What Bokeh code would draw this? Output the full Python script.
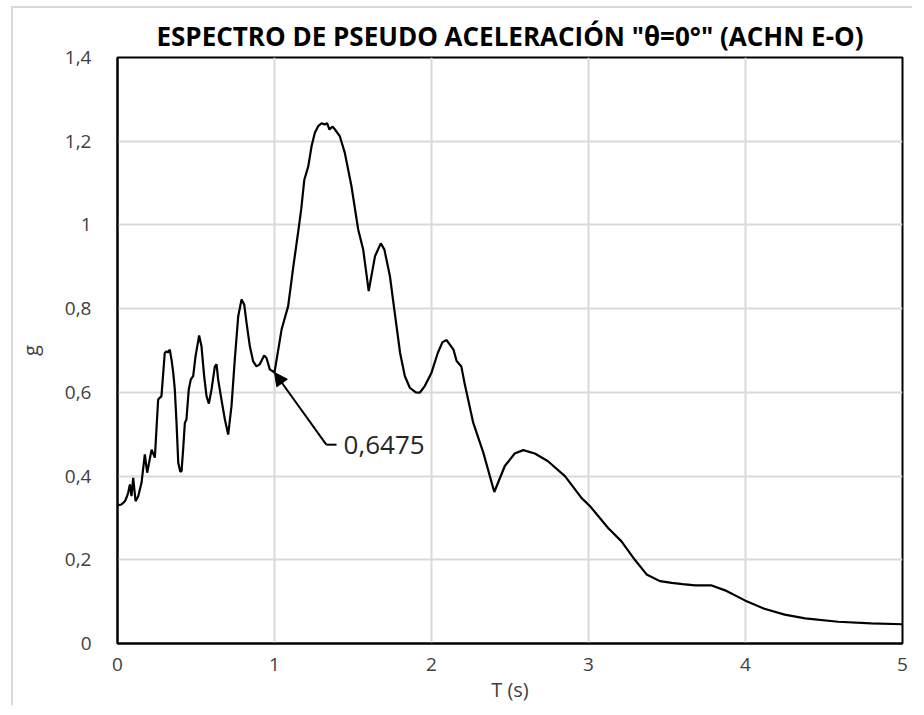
from bokeh.plotting import figure
from bokeh.layouts import column
from bokeh.embed import file_html
from bokeh.resources import INLINE
from bokeh.models import (Range1d, FixedTicker, CustomJSTickFormatter, Arrow, NormalHead,
                          Label, ColumnDataSource, Title)

# Period T (s)
periods = [0.0, 0.025, 0.047, 0.057, 0.068, 0.079, 0.089, 0.100, 0.115, 0.132, 0.153, 0.174, 0.189,
           0.217, 0.238, 0.248, 0.259, 0.280, 0.301, 0.312, 0.320, 0.333, 0.344, 0.355, 0.365, 0.376,
           0.387, 0.400, 0.408, 0.418, 0.429, 0.439, 0.454, 0.467, 0.482, 0.497, 0.520, 0.535,
           0.552, 0.567, 0.582, 0.599, 0.620, 0.631, 0.641, 0.662, 0.684, 0.705, 0.726, 0.747,
           0.769, 0.790, 0.807, 0.822, 0.843, 0.864, 0.885, 0.906, 0.934, 0.949, 0.970, 1.000,
           1.045, 1.087, 1.120, 1.150, 1.170, 1.190, 1.215, 1.236, 1.257, 1.278, 1.300, 1.320,
           1.335, 1.350, 1.370, 1.385, 1.416, 1.448, 1.490, 1.533, 1.565, 1.600, 1.640, 1.677,
           1.700, 1.735, 1.766, 1.800, 1.830, 1.862, 1.900, 1.925, 1.957, 2.000, 2.040, 2.070,
           2.096, 2.140, 2.160, 2.190, 2.210, 2.266, 2.330, 2.400, 2.467, 2.530, 2.584, 2.658,
           2.740, 2.850, 2.955, 3.010, 3.125, 3.210, 3.295, 3.370, 3.455, 3.530, 3.600, 3.680,
           3.780, 3.870, 3.996, 4.120, 4.250, 4.380, 4.590, 4.800, 5.000]
# Pseudo acceleration (g)
accel = [0.330, 0.332, 0.340, 0.348, 0.360, 0.380, 0.352, 0.396, 0.340, 0.352, 0.384, 0.452, 0.408,
         0.463, 0.444, 0.511, 0.583, 0.591, 0.694, 0.698, 0.695, 0.702, 0.678, 0.647, 0.607, 0.527,
         0.432, 0.410, 0.412, 0.463, 0.527, 0.535, 0.607, 0.631, 0.639, 0.686, 0.736, 0.710,
         0.639, 0.591, 0.573, 0.607, 0.662, 0.667, 0.631, 0.583, 0.535, 0.499, 0.567, 0.678,
         0.782, 0.822, 0.810, 0.766, 0.710, 0.674, 0.662, 0.667, 0.688, 0.682, 0.655, 0.6475,
         0.750, 0.806, 0.901, 0.981, 1.037, 1.108, 1.140, 1.188, 1.220, 1.236, 1.243, 1.240,
         1.243, 1.228, 1.235, 1.228, 1.212, 1.172, 1.093, 0.989, 0.941, 0.842, 0.925, 0.956,
         0.941, 0.878, 0.790, 0.694, 0.639, 0.611, 0.600, 0.599, 0.615, 0.647, 0.694, 0.720,
         0.725, 0.702, 0.675, 0.662, 0.623, 0.527, 0.456, 0.362, 0.424, 0.454, 0.462, 0.454,
         0.436, 0.400, 0.348, 0.328, 0.276, 0.244, 0.200, 0.165, 0.149, 0.145, 0.142, 0.139,
         0.139, 0.127, 0.103, 0.083, 0.069, 0.060, 0.052, 0.048, 0.046]

x_ticks = [0, 1, 2, 3, 4, 5]
y_ticks = [0, 0.2, 0.4, 0.6, 0.8, 1.0, 1.2, 1.4]

ann_x = 1.0
ann_y = 0.6475
ann_text = "0,6475"
label_x = 1.44
label_y = 0.475

title_text = 'ESPECTRO DE PSEUDO ACELERACIÓN "θ=0°" (ACHN E-O)'
FONT = "Open Sans"

p = figure(output_backend="svg", toolbar_location=None,
           frame_width=785, frame_height=586,
           x_range=Range1d(0, 5), y_range=Range1d(0, 1.4),
           min_border_left=103, min_border_top=49, min_border_right=10, min_border_bottom=62,
           background_fill_color="white", border_fill_color="white")

t = Title(text=title_text, align="center", text_font=FONT, text_font_size="26px",
          text_font_style="bold", text_color="#000000", standoff=8)
p.add_layout(t, "above")

src = ColumnDataSource(dict(T=periods, g=accel))
p.line("T", "g", source=src, line_color="#000000", line_width=2.2)

p.outline_line_color = "#000000"
p.outline_line_width = 2
p.outline_line_alpha = 1

for ax in (p.xaxis[0], p.yaxis[0]):
    ax.axis_line_color = "#000000"
    ax.axis_line_width = 2
    ax.major_tick_line_color = None
    ax.minor_tick_line_color = None
    ax.major_tick_out = 0
    ax.major_tick_in = 0
    ax.minor_tick_out = 0
    ax.minor_tick_in = 0
    ax.major_label_text_font = FONT
    ax.major_label_text_font_size = "19px"
    ax.major_label_text_color = "#404040"
    ax.axis_label_text_font = FONT
    ax.axis_label_text_font_size = "20px"
    ax.axis_label_text_font_style = "normal"
    ax.axis_label_text_color = "#404040"

p.xaxis[0].ticker = FixedTicker(ticks=x_ticks)
p.yaxis[0].ticker = FixedTicker(ticks=y_ticks)
fmt = CustomJSTickFormatter(code="return (Math.round(tick*10)/10).toString().replace('.', ',');")
p.xaxis[0].formatter = fmt
p.yaxis[0].formatter = fmt
p.xaxis[0].major_label_standoff = 14
p.yaxis[0].major_label_standoff = 26
p.xaxis[0].axis_label = "T (s)"
p.yaxis[0].axis_label = "g"
p.xaxis[0].axis_label_standoff = 2
p.yaxis[0].axis_label_standoff = 18

p.xgrid[0].ticker = FixedTicker(ticks=x_ticks)
p.ygrid[0].ticker = FixedTicker(ticks=y_ticks)
p.grid.grid_line_color = "#d9d9d9"
p.grid.grid_line_width = 2

# annotation
p.add_layout(Arrow(end=NormalHead(size=13, fill_color="#000000", line_color="#000000"),
                   x_start=label_x - 0.11, y_start=label_y, x_end=ann_x, y_end=ann_y,
                   line_color="#000000", line_width=2))
p.segment(x0=[label_x - 0.11], y0=[label_y], x1=[label_x - 0.045], y1=[label_y],
          line_color="#000000", line_width=2)
p.add_layout(Label(x=label_x, y=label_y, text=ann_text, text_font=FONT, text_font_size="26px",
                   text_baseline="middle", text_align="left", text_color="#262626"))

# light grey chart-area frame (left and top edges visible)
root = column(p, margin=(6, 0, 0, 11),
              styles={"border-left": "2px solid #d9d9d9", "border-top": "2px solid #d9d9d9",
                      "background-color": "white"})

open("out.html", "w").write(file_html(root, INLINE))
